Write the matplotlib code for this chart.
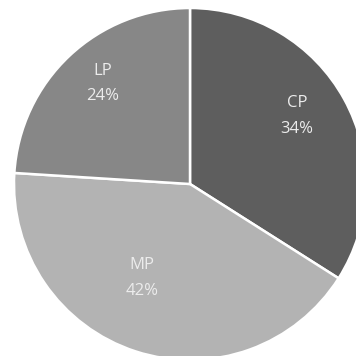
import matplotlib
matplotlib.use("Agg")
import matplotlib.pyplot as plt
import numpy as np

categories = ["CP", "MP", "LP"]
values = [34, 42, 24]
colors = ["#5e5e5e", "#b3b3b3", "#878787"]
label_dist = [0.72, 0.60, 0.755]
label_angle_offset = [3.5, -9.0, -2.3]

fig = plt.figure(figsize=(3.56, 3.56), dpi=100)
ax = fig.add_axes([0, 0, 1, 1])
wedges, _ = ax.pie(values, colors=colors, startangle=90, counterclock=False,
                   wedgeprops=dict(edgecolor="white", linewidth=1.8))
for w, cat, v, d, off in zip(wedges, categories, values, label_dist, label_angle_offset):
    ang = np.deg2rad((w.theta1 + w.theta2) / 2 + off)
    ax.text(d * np.cos(ang), d * np.sin(ang), f"{cat}\n{v}%", ha="center", va="center",
            color="#ececec", fontsize=12, family="Open Sans", linespacing=1.8)
ax.set_xlim(-190 / 176, (356 - 190) / 176)
ax.set_ylim(-(356 - 184) / 176, 184 / 176)
ax.set_aspect("auto")
ax.axis("off")
fig.savefig("out.png", dpi=100, facecolor="white")
